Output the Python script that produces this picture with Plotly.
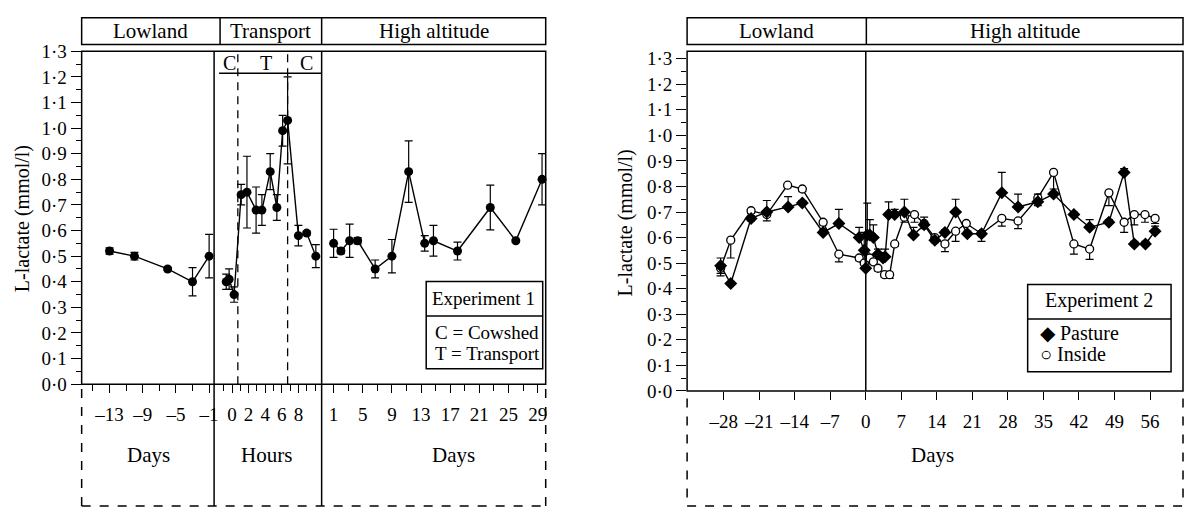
import plotly.graph_objects as go

W, H = 1191, 519
FONT = "Liberation Serif"

# ---------------- Experiment 1 data ----------------
low_days = [-13, -10, -6, -3, -1]
low_vals = [0.52, 0.50, 0.45, 0.40, 0.50]
low_err = [0.012, 0.015, 0.006, 0.055, 0.085]

trans_hours = [-0.7, -0.35, 0.25, 1.1, 1.8, 2.9, 3.6, 4.6, 5.4, 6.1, 6.7, 8.0, 9.0, 10.1]
trans_vals = [0.40, 0.41, 0.35, 0.74, 0.75, 0.68, 0.68, 0.83, 0.69, 0.99, 1.03, 0.58, 0.59, 0.50]
trans_err = [0.03, 0.04, 0.03, 0.04, 0.14, 0.09, 0.06, 0.07, 0.05, 0.06, 0.17, 0.04, 0.008, 0.045]
transport_bounds_h = [0.7, 6.7]

high_days = [1, 2, 3.2, 4.3, 6.7, 9, 11.3, 13.5, 14.7, 18, 22.5, 26, 29.6]
high_vals = [0.55, 0.52, 0.56, 0.56, 0.45, 0.50, 0.83, 0.55, 0.56, 0.52, 0.69, 0.56, 0.80]
high_err = [0.055, 0.01, 0.065, 0.012, 0.035, 0.065, 0.12, 0.03, 0.06, 0.035, 0.087, 0.005, 0.10]

# ---------------- Experiment 2 data ----------------
pasture_days = [-28.6, -26.6, -22.6, -19.5, -15.3, -12.5, -8.4, -5.3, -1.3, -0.3, 0.0, 0.3, 0.8, 1.5,
                2.4, 3.4, 3.8, 4.5, 5.7, 7.6, 9.4, 11.5, 13.6, 15.6, 17.7, 20.0, 22.8, 26.8, 30.0,
                33.9, 37.0, 41.0, 44.1, 47.9, 50.9, 52.9, 55.1, 57.0]
pasture_vals = [0.49, 0.42, 0.675, 0.70, 0.72, 0.735, 0.62, 0.655, 0.60, 0.55, 0.48, 0.61, 0.61, 0.60,
                0.535, 0.52, 0.525, 0.69, 0.69, 0.70, 0.61, 0.65, 0.59, 0.62, 0.70, 0.615, 0.615, 0.775,
                0.72, 0.74, 0.77, 0.69, 0.64, 0.66, 0.855, 0.575, 0.575, 0.625]
pasture_err_up = [0.03, 0.005, 0.01, 0.045, 0.04, 0.01, 0.01, 0.055, 0.04, 0.07, 0.06, 0.125, 0.06, 0.05,
                  0.02, 0.01, 0.03, 0.05, 0.02, 0.05, 0.03, 0.03, 0.01, 0.01, 0.05, 0.01, 0.01, 0.08,
                  0.05, 0.03, 0.02, 0.01, 0.03, 0.01, 0.015, 0.01, 0.01, 0.02]
pasture_err_down = [0.03, 0, 0.01, 0, 0, 0, 0, 0, 0, 0, 0, 0, 0, 0,
                    0, 0, 0, 0, 0, 0, 0, 0, 0, 0, 0, 0, 0, 0,
                    0, 0, 0, 0, 0, 0, 0, 0, 0, 0]

inside_days = [-28.6, -26.6, -22.6, -19.5, -15.4, -12.5, -8.4, -5.3, -1.3, -0.3, 0.75, 1.5, 2.4, 3.7,
               4.7, 5.7, 7.6, 9.6, 11.5, 13.6, 15.6, 17.7, 19.8, 22.8, 26.8, 30.0, 33.9, 37.0, 41.0,
               44.1, 47.9, 50.9, 52.9, 55.0, 57.0]
inside_vals = [0.48, 0.59, 0.705, 0.69, 0.805, 0.79, 0.66, 0.535, 0.52, 0.50, 0.52, 0.505, 0.48, 0.455,
               0.455, 0.575, 0.68, 0.69, 0.655, 0.60, 0.575, 0.625, 0.655, 0.615, 0.675, 0.665, 0.755,
               0.855, 0.575, 0.555, 0.775, 0.66, 0.69, 0.69, 0.675]
inside_err_down = [0.03, 0.07, 0.01, 0.025, 0.01, 0.01, 0.01, 0.03, 0.01, 0.02, 0.02, 0.01, 0.01, 0.01,
                   0.015, 0.01, 0.02, 0.03, 0.02, 0.02, 0.03, 0.04, 0.01, 0.03, 0.03, 0.03, 0.03,
                   0.08, 0.04, 0.04, 0.05, 0.04, 0.04, 0.03, 0.02]

# tick labels
y_tickvals = [0.0, 0.1, 0.2, 0.3, 0.4, 0.5, 0.6, 0.7, 0.8, 0.9, 1.0, 1.1, 1.2, 1.3]
y_ticktext = ["0·0", "0·1", "0·2", "0·3", "0·4", "0·5", "0·6", "0·7", "0·8", "0·9", "1·0", "1·1", "1·2", "1·3"]
low_tickvals = [-13, -9, -5, -1]
low_ticktext = ["–13", "–9", "–5", "–1"]
hour_tickvals = [0, 2, 4, 6, 8]
hour_ticktext = ["0", "2", "4", "6", "8"]
high_tickvals = [1, 5, 9, 13, 17, 21, 25, 29]
high_ticktext = ["1", "5", "9", "13", "17", "21", "25", "29"]
exp2_tickvals = [-28, -21, -14, -7, 0, 7, 14, 21, 28, 35, 42, 49, 56]
exp2_ticktext = ["–28", "–21", "–14", "–7", "0", "7", "14", "21", "28", "35", "42", "49", "56"]


def px(x):
    return x / W


def py(y):
    return 1 - y / H


fig = go.Figure()

LW = 1.4
err_common = dict(type="data", visible=True, color="black", thickness=1.2, width=4)

# Experiment 1 traces
fig.add_trace(go.Scatter(x=low_days, y=low_vals, xaxis="x", yaxis="y", mode="lines+markers",
                         line=dict(color="black", width=LW), marker=dict(symbol="circle", size=9, color="black"),
                         error_y=dict(array=low_err, **err_common), showlegend=False))
fig.add_trace(go.Scatter(x=trans_hours, y=trans_vals, xaxis="x2", yaxis="y", mode="lines+markers",
                         line=dict(color="black", width=LW), marker=dict(symbol="circle", size=9, color="black"),
                         error_y=dict(array=trans_err, **err_common), showlegend=False))
fig.add_trace(go.Scatter(x=high_days, y=high_vals, xaxis="x3", yaxis="y", mode="lines+markers",
                         line=dict(color="black", width=LW), marker=dict(symbol="circle", size=9, color="black"),
                         error_y=dict(array=high_err, **err_common), showlegend=False, cliponaxis=False))

# Experiment 2 traces
fig.add_trace(go.Scatter(x=inside_days, y=inside_vals, xaxis="x4", yaxis="y2", mode="lines+markers",
                         line=dict(color="black", width=LW),
                         marker=dict(symbol="circle", size=8, color="white", line=dict(color="black", width=1.3)),
                         error_y=dict(symmetric=False, array=[0] * len(inside_err_down),
                                      arrayminus=inside_err_down, **err_common),
                         showlegend=False))
fig.add_trace(go.Scatter(x=pasture_days, y=pasture_vals, xaxis="x4", yaxis="y2", mode="lines+markers",
                         line=dict(color="black", width=LW),
                         marker=dict(symbol="diamond", size=10, color="black"),
                         error_y=dict(symmetric=False, array=pasture_err_up,
                                      arrayminus=pasture_err_down, **err_common),
                         showlegend=False))

tickfont = dict(family=FONT, size=19, color="black")

y_minor = [v + 0.05 for v in y_tickvals[:-1]]

yaxis_common = dict(range=[0, 1.3], tickvals=y_tickvals, ticktext=y_ticktext, ticks="outside",
                    ticklen=10, tickwidth=1.3, tickcolor="black", showgrid=False, zeroline=False,
                    showline=False, tickfont=tickfont,
                    minor=dict(tickvals=y_minor, ticks="outside", ticklen=5, tickwidth=1.3, tickcolor="black"))

xaxis_common = dict(ticks="outside", ticklen=8, tickwidth=1.3, tickcolor="black", showgrid=False,
                    zeroline=False, showline=False, tickfont=tickfont, ticklabelstandoff=5)

fig.update_layout(
    width=W, height=H, margin=dict(l=0, r=0, t=0, b=0),
    paper_bgcolor="white", plot_bgcolor="white",
    font=dict(family=FONT, size=18, color="black"),
    xaxis=dict(domain=[px(82), px(215)], range=[-16.36, -0.4], anchor="y",
               tickvals=low_tickvals, ticktext=low_ticktext,
               minor=dict(tickvals=[-15, -11, -7, -3], ticks="outside", ticklen=6, tickwidth=1.3, tickcolor="black"),
               **xaxis_common),
    xaxis2=dict(domain=[px(215), px(323)], range=[-2.16, 10.8], anchor="y",
                tickvals=hour_tickvals, ticktext=hour_ticktext,
                minor=dict(tickvals=[-1, 1, 3, 5, 7, 9, 10], ticks="outside", ticklen=6, tickwidth=1.3, tickcolor="black"),
                **xaxis_common),
    xaxis3=dict(domain=[px(323), px(548)], range=[-0.64, 30.1], anchor="y",
                tickvals=high_tickvals, ticktext=high_ticktext,
                minor=dict(tickvals=[3, 7, 11, 15, 19, 23, 27], ticks="outside", ticklen=6, tickwidth=1.3, tickcolor="black"),
                **xaxis_common),
    yaxis=dict(domain=[py(390), py(43)], anchor="x", **yaxis_common),
    xaxis4=dict(domain=[px(690), px(1188)], range=[-35.2, 62.5], anchor="y2",
                tickvals=exp2_tickvals, ticktext=exp2_ticktext, **xaxis_common),
    yaxis2=dict(domain=[py(397), py(50.7)], anchor="x4", **yaxis_common),
)

shapes = []
BL = dict(color="black", width=1.5)
DL = dict(color="black", width=1.5, dash="dash")


def line(x0, y0, x1, y1, ln=BL):
    shapes.append(dict(type="line", xref="paper", yref="paper", x0=px(x0), y0=py(y0), x1=px(x1), y1=py(y1),
                       line=ln, layer="above"))


def rect(x0, y0, x1, y1):
    shapes.append(dict(type="rect", xref="paper", yref="paper", x0=px(x0), y0=py(y0), x1=px(x1), y1=py(y1),
                       line=BL, fillcolor="rgba(0,0,0,0)", layer="above"))


# Left panel
rect(82, 8, 548, 36)
line(221, 8, 221, 36)
line(323, 8, 323, 36)
rect(82, 43, 548, 390)
line(215, 43, 215, 517)
line(323, 43, 323, 517)
line(220, 66, 323, 66)
line(82, 395, 82, 517, DL)
line(82, 517, 548, 517, DL)
line(548, 395, 548, 517, DL)
for hb in transport_bounds_h:
    shapes.append(dict(type="line", xref="x2", yref="paper", x0=hb, x1=hb, y0=py(390), y1=py(43),
                       line=dict(color="black", width=1.3, dash="8px,6px"), layer="above"))
# legend box 1
rect(428, 283, 545, 374)
line(428, 319, 545, 319)

# Right panel
rect(690, 8, 1188, 36)
line(870, 8, 870, 36)
rect(690, 43, 1188, 397)
shapes.append(dict(type="line", xref="x4", yref="paper", x0=0, x1=0, y0=py(397), y1=py(43),
                   line=BL, layer="above"))
line(690, 405, 690, 517, DL)
line(690, 517, 1188, 517, DL)
line(1188, 405, 1188, 517, DL)
rect(1032, 286, 1176, 377)
line(1032, 322, 1176, 322)

annotations = []


def text(x, y, s, size=20, xanchor="center", angle=0):
    annotations.append(dict(xref="paper", yref="paper", x=px(x), y=py(y), text=s, showarrow=False,
                            xanchor=xanchor, yanchor="middle", textangle=angle,
                            font=dict(family=FONT, size=size, color="black")))


text(151, 22, "Lowland", 21)
text(272, 22, "Transport", 21)
text(436, 22, "High altitude", 21)
text(230, 55, "C", 20)
text(267, 55, "T", 20)
text(308, 55, "C", 20)
text(149, 464, "Days", 21)
text(268, 464, "Hours", 21)
text(455, 464, "Days", 21)
text(22, 217, "L-lactate (mmol/l)", 20, angle=-90)
text(486, 301, "Experiment 1", 19)
text(435, 336, "C = Cowshed", 19, xanchor="left")
text(435, 358, "T = Transport", 19, xanchor="left")

text(780, 22, "Lowland", 21)
text(1029, 22, "High altitude", 21)
text(936, 464, "Days", 21)
text(628, 222, "L-lactate (mmol/l)", 20, angle=-90)
text(1104, 303, "Experiment 2", 20)
text(1042, 337, "◆ Pasture", 20, xanchor="left")
text(1042, 359, "○ Inside", 20, xanchor="left")

fig.update_layout(shapes=shapes, annotations=annotations)
fig.write_html("out.html")
